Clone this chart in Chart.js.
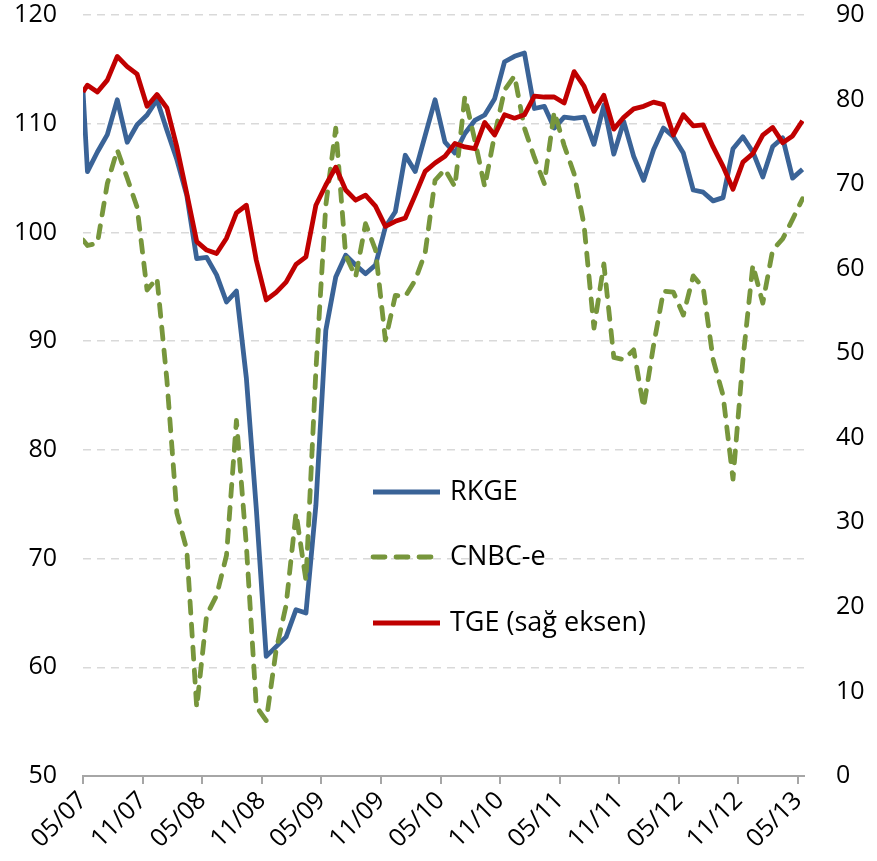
<!DOCTYPE html>
<html>
<head>
<meta charset="utf-8">
<script src="https://cdn.jsdelivr.net/npm/chart.js@4/dist/chart.umd.min.js"></script>
<style>
  html, body { margin: 0; padding: 0; background: #fff; }
  #wrap { width: 877px; height: 861px; }
</style>
</head>
<body>
<div id="wrap"><canvas id="indexChart" width="877" height="861"></canvas></div>
<script>
// first entry is the opening reading at the start of 05/07, the rest are mid-month readings
const tickLabels = ['05/07', '11/07', '05/08', '11/08', '05/09', '11/09', '05/10',
                    '11/10', '05/11', '11/11', '05/12', '11/12', '05/13'];

const rkge = [113.0,
  105.6, 107.4, 109.0, 112.2, 108.3, 109.9, 110.8, 112.2, 109.4, 106.7,
  103.4, 97.6, 97.7, 96.1, 93.6, 94.6, 86.6, 74.6, 61.0, 61.9,
  62.8, 65.3, 65.0, 74.9, 91.0, 95.9, 97.9, 97.0, 96.2, 97.0,
  100.5, 101.9, 107.1, 105.6, 108.9, 112.2, 108.3, 107.3, 109.1, 110.3,
  110.8, 112.3, 115.7, 116.2, 116.5, 111.4, 111.6, 109.6, 110.6, 110.5,
  110.6, 108.1, 111.7, 107.2, 110.2, 107.0, 104.8, 107.6, 109.6, 108.8,
  107.3, 103.9, 103.7, 102.9, 103.2, 107.7, 108.8, 107.4, 105.1, 107.9,
  108.7, 105.0, 105.8];

const cnbce = [99.3,
  98.8, 99.0, 104.5, 107.6, 105.0, 102.3, 94.7, 95.8, 86.4, 74.2,
  70.8, 56.3, 64.8, 66.6, 70.3, 82.7, 71.2, 56.4, 55.1, 61.6,
  65.7, 74.2, 68.0, 87.3, 102.5, 109.6, 97.9, 95.9, 100.8, 98.4,
  90.1, 94.2, 94.1, 95.6, 98.1, 104.8, 105.8, 104.2, 112.5, 108.5,
  104.2, 109.0, 113.1, 114.4, 109.6, 106.9, 104.5, 111.1, 108.0, 105.4,
  100.7, 91.2, 97.1, 88.5, 88.3, 89.2, 83.9, 89.6, 94.6, 94.5,
  92.4, 96.0, 94.9, 88.3, 85.0, 77.3, 88.3, 97.0, 93.5, 98.4,
  99.4, 101.2, 103.1];

const tge = [80.9,
  81.7, 80.9, 82.3, 85.1, 83.9, 83.0, 79.2, 80.6, 79.0, 74.4,
  68.9, 63.2, 62.2, 61.8, 63.6, 66.6, 67.5, 61.0, 56.3, 57.2,
  58.4, 60.5, 61.4, 67.5, 69.9, 72.0, 69.3, 68.1, 68.7, 67.4,
  65.0, 65.6, 66.0, 68.7, 71.5, 72.5, 73.3, 74.8, 74.4, 74.2,
  77.3, 75.8, 78.2, 77.8, 78.2, 80.4, 80.3, 80.3, 79.6, 83.3,
  81.6, 78.6, 80.5, 76.5, 77.9, 78.9, 79.2, 79.7, 79.4, 75.8,
  78.2, 76.9, 77.0, 74.4, 72.1, 69.4, 72.6, 73.6, 75.8, 76.7,
  74.9, 75.7, 77.5];

// x counts months from 05/07; mid-month readings sit a little past each tick
const monthPos = i => (i === 0 ? 0 : i - 1 + 0.45);
const toPoints = vals => vals.map((v, i) => ({ x: monthPos(i), y: v }));

const FONT = { family: 'Open Sans', size: 25 };
const LEGEND_FONT = { family: 'Open Sans', size: 27 };

const insideLegend = {
  id: 'insideLegend',
  afterDraw(chart) {
    const ctx = chart.ctx;
    const x0 = 373, x1 = 440, ys = [492, 557, 623];
    ctx.save();
    chart.data.datasets.forEach((ds, i) => {
      ctx.beginPath();
      ctx.strokeStyle = ds.borderColor;
      ctx.lineWidth = ds.borderWidth;
      ctx.lineCap = ds.borderCapStyle || 'butt';
      ctx.setLineDash(ds.borderDash || []);
      ctx.moveTo(x0, ys[i]);
      ctx.lineTo(x1, ys[i]);
      ctx.stroke();
      ctx.setLineDash([]);
      ctx.fillStyle = '#000';
      ctx.font = `${LEGEND_FONT.size}px "${LEGEND_FONT.family}"`;
      ctx.textBaseline = 'middle';
      ctx.fillText(ds.label, 450, ys[i]);
    });
    ctx.restore();
  }
};

// keep the plot box where it belongs: no extra room for half-labels
const noPad = s => { s.paddingTop = 0; s.paddingBottom = 0; };

const ctx = document.getElementById('indexChart').getContext('2d');
const chart = new Chart(ctx, {
  type: 'line',
  data: {
    datasets: [
      {
        label: 'RKGE',
        data: toPoints(rkge),
        yAxisID: 'y',
        borderColor: '#3A6397',
        borderWidth: 4.8,
        order: 2
      },
      {
        label: 'CNBC-e',
        data: toPoints(cnbce),
        yAxisID: 'y',
        borderColor: '#77963C',
        borderWidth: 4.8,
        borderDash: [12, 11],
        borderCapStyle: 'round',
        order: 1
      },
      {
        label: 'TGE (sağ eksen)',
        data: toPoints(tge),
        yAxisID: 'y2',
        borderColor: '#C00000',
        borderWidth: 4.8,
        order: 0
      }
    ]
  },
  options: {
    responsive: false,
    animation: false,
    layout: { padding: { top: 15, left: 0, right: 0, bottom: 0 } },
    elements: {
      point: { radius: 0 },
      line: { tension: 0, borderJoinStyle: 'round' }
    },
    plugins: {
      legend: { display: false },
      tooltip: { enabled: false }
    },
    scales: {
      x: {
        type: 'linear',
        min: 0,
        max: 72.6,
        afterFit: s => { s.height = 85; s.paddingLeft = 0; s.paddingRight = 0; },
        border: { display: true, color: '#a6a6a6', width: 2 },
        grid: {
          drawOnChartArea: false,
          drawTicks: true,
          tickLength: 8,
          color: '#a6a6a6',
          lineWidth: 2
        },
        ticks: {
          stepSize: 6,
          includeBounds: false,
          autoSkip: false,
          minRotation: 45,
          maxRotation: 45,
          padding: 2,
          color: '#000',
          font: FONT,
          callback: v => tickLabels[Math.round(v / 6)]
        }
      },
      y: {
        position: 'left',
        min: 50,
        max: 120,
        afterFit: s => { s.width = 83; noPad(s); },
        border: { display: false, dash: [8, 6] },
        grid: {
          drawTicks: false,
          lineWidth: 1.5,
          color: c => (c.tick && c.tick.value === 50) ? 'rgba(0,0,0,0)' : '#d9d9d9'
        },
        ticks: { stepSize: 10, padding: 26, color: '#000', font: FONT }
      },
      y2: {
        position: 'right',
        min: 0,
        max: 90,
        afterFit: s => { s.width = 73; noPad(s); },
        border: { display: false },
        grid: { display: false, drawOnChartArea: false },
        ticks: { stepSize: 10, padding: 24, color: '#000', font: FONT }
      }
    }
  },
  plugins: [insideLegend]
});
</script>
</body>
</html>
